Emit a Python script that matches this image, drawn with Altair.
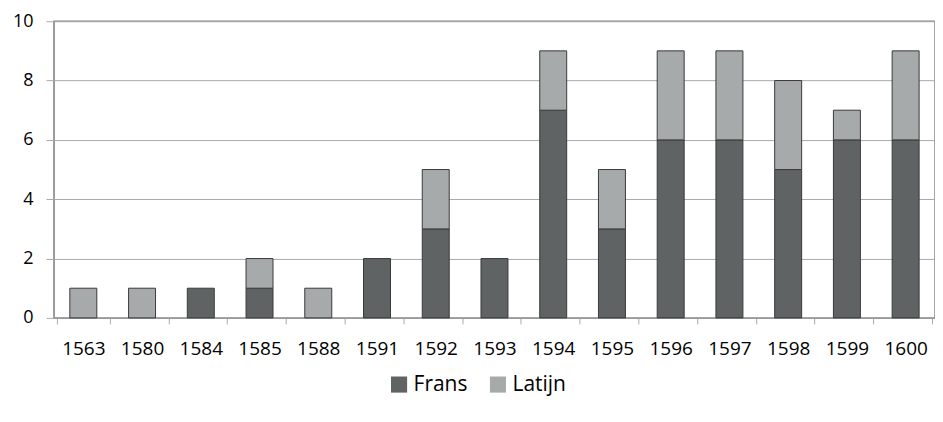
import altair as alt
import pandas as pd

years = ["1563", "1580", "1584", "1585", "1588", "1591", "1592", "1593",
         "1594", "1595", "1596", "1597", "1598", "1599", "1600"]
frans = [0, 0, 1, 1, 0, 2, 3, 2, 7, 3, 6, 6, 5, 6, 6]
latijn = [1, 1, 0, 1, 1, 0, 2, 0, 2, 2, 3, 3, 3, 1, 3]
series = ["Frans", "Latijn"]
colors = ["#5f6363", "#a7aaaa"]

rows = []
for y, f, l in zip(years, frans, latijn):
    rows.append({"year": y, "taal": "Frans", "n": f, "ord": 0})
    rows.append({"year": y, "taal": "Latijn", "n": l, "ord": 1})
df = pd.DataFrame(rows)
df = df[df["n"] > 0]

FONT = "Open Sans"

chart = alt.Chart(df).mark_bar(size=27, stroke="#3a3a3a", strokeWidth=1).encode(
    x=alt.X("year:N", sort=years, title=None,
            scale=alt.Scale(domain=years),
            axis=alt.Axis(labelAngle=0, tickBand="extent", tickSize=6,
                          tickColor="#aaaaaa", domainColor="#999999",
                          labelPadding=16, labelFontSize=19, labelFont=FONT,
                          labelColor="#000000", grid=False)),
    y=alt.Y("n:Q", stack="zero", title=None,
            scale=alt.Scale(domain=[0, 10]),
            axis=alt.Axis(values=[0, 2, 4, 6, 8, 10], tickSize=8,
                          tickColor="#aaaaaa", domainColor="#999999",
                          gridColor="#aaaaaa", labelPadding=13,
                          labelFontSize=18, labelFont=FONT,
                          labelColor="#000000")),
    color=alt.Color("taal:N", scale=alt.Scale(domain=series, range=colors),
                    legend=alt.Legend(title=None, orient="none",
                                      legendX=335, legendY=353,
                                      direction="horizontal",
                                      symbolType="square", symbolSize=260,
                                      symbolStrokeWidth=0,
                                      labelFontSize=21, labelFont=FONT,
                                      labelColor="#000000",
                                      columnPadding=20)),
    order=alt.Order("ord:Q"),
).properties(
    width=882, height=297,
    autosize=alt.AutoSizeParams(type="none"),
    padding={"left": 46, "top": 13, "right": 0, "bottom": 96},
).configure_view(
    stroke="#888888", strokeWidth=1.5
)

chart.save("out.html", embed_options={"renderer": "svg", "actions": False})
